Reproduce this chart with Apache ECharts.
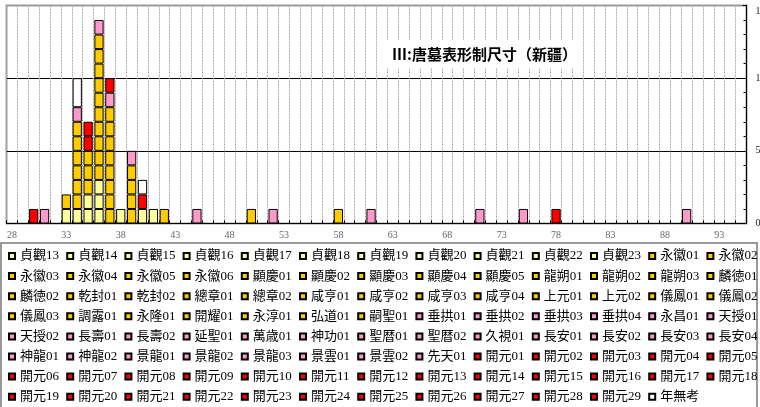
<!DOCTYPE html>
<html>
<head>
<meta charset="utf-8">
<script src="https://cdn.jsdelivr.net/npm/echarts@6/dist/echarts.min.js"></script>
<style>
html, body { margin: 0; padding: 0; background: #fff; }
#chart { width: 760px; height: 407px; }
</style>
</head>
<body>
<div id="chart"></div>
<script>
// Tomb-slab size classes (尺寸) along the horizontal axis
const sizeCategories = [28, 29, 30, 31, 32, 33, 34, 35, 36, 37, 38, 39, 40, 41, 42, 43, 44, 45, 46, 47,
  48, 49, 50, 51, 52, 53, 54, 55, 56, 57, 58, 59, 60, 61, 62, 63, 64, 65, 66, 67, 68, 69, 70, 71, 72,
  73, 74, 75, 76, 77, 78, 79, 80, 81, 82, 83, 84, 85, 86, 87, 88, 89, 90, 91, 92, 93, 94, 95];

// Reign-era series, grouped by period
const zhenguanEras = ['貞觀13', '貞觀14', '貞觀15', '貞觀16', '貞觀17', '貞觀18', '貞觀19', '貞觀20', '貞觀21', '貞觀22', '貞觀23'];
const gaozongEras = ['永徽01', '永徽02', '永徽03', '永徽04', '永徽05', '永徽06', '顯慶01', '顯慶02', '顯慶03', '顯慶04', '顯慶05',
  '龍朔01', '龍朔02', '龍朔03', '麟徳01', '麟徳02', '乾封01', '乾封02', '總章01', '總章02', '咸亨01', '咸亨02', '咸亨03', '咸亨04',
  '上元01', '上元02', '儀鳳01', '儀鳳02', '儀鳳03', '調露01', '永隆01', '開耀01', '永淳01', '弘道01', '嗣聖01'];
const wuzhouEras = ['垂拱01', '垂拱02', '垂拱03', '垂拱04', '永昌01', '天授01', '天授02', '長壽01', '長壽02', '延聖01', '萬歳01',
  '神功01', '聖暦01', '聖暦02', '久視01', '長安01', '長安02', '長安03', '長安04', '神龍01', '神龍02', '景龍01', '景龍02', '景龍03',
  '景雲01', '景雲02', '先天01'];
const kaiyuanEras = ['開元01', '開元02', '開元03', '開元04', '開元05', '開元06', '開元07', '開元08', '開元09', '開元10', '開元11',
  '開元12', '開元13', '開元14', '開元15', '開元16', '開元17', '開元18', '開元19', '開元20', '開元21', '開元22', '開元23', '開元24',
  '開元25', '開元26', '開元27', '開元28', '開元29'];
const undatedEras = ['年無考'];

// Tomb slabs: [era, size, count]
const tombRecords = [
  ['貞觀13', 35, 1], ['貞觀14', 36, 1], ['貞觀15', 34, 1], ['貞觀16', 36, 1], ['貞觀17', 33, 1],
  ['貞觀18', 35, 1], ['貞觀19', 36, 1], ['貞觀20', 38, 1], ['貞觀21', 40, 1], ['貞觀22', 41, 1],
  ['顯慶02', 33, 1],
  ['永徽02', 34, 1], ['永徽05', 34, 1], ['顯慶01', 34, 1], ['龍朔01', 34, 1], ['總章01', 34, 1], ['咸亨02', 34, 1],
  ['永徽03', 35, 1], ['麟徳01', 35, 1], ['上元01', 35, 1],
  ['永徽01', 36, 1], ['永徽04', 36, 1], ['永徽06', 36, 1], ['顯慶03', 36, 1], ['顯慶05', 36, 1],
  ['龍朔02', 36, 1], ['乾封01', 36, 1], ['咸亨01', 36, 1], ['咸亨03', 36, 1], ['儀鳳01', 36, 1],
  ['永徽02', 37, 1], ['顯慶04', 37, 1], ['龍朔03', 37, 1], ['麟徳02', 37, 1], ['乾封02', 37, 1],
  ['總章02', 37, 1], ['咸亨04', 37, 1], ['儀鳳02', 37, 1],
  ['永徽05', 39, 1], ['顯慶02', 39, 1], ['上元02', 39, 1], ['調露01', 39, 1],
  ['儀鳳03', 42, 1], ['永隆01', 50, 1], ['開耀01', 58, 1],
  ['長安02', 31, 1], ['垂拱02', 34, 1], ['天授01', 36, 1], ['聖暦01', 37, 1], ['垂拱04', 39, 1],
  ['長壽02', 45, 1], ['久視01', 52, 1], ['神龍02', 61, 1], ['景龍03', 71, 1], ['長安04', 75, 1], ['景雲02', 90, 1],
  ['開元21', 30, 1], ['開元03', 35, 1], ['開元09', 35, 1], ['開元12', 37, 1], ['開元05', 40, 1], ['開元26', 78, 1],
  ['年無考', 34, 2], ['年無考', 40, 1]
];

// Fill colour for each period group
const groupStyles = [
  { eras: zhenguanEras, color: '#FFFF99' },
  { eras: gaozongEras, color: '#FFCC00' },
  { eras: wuzhouEras, color: '#FF99CC' },
  { eras: kaiyuanEras, color: '#FF0000' },
  { eras: undatedEras, color: '#FFFFFF' }
];

const serifFont = "'Liberation Serif', 'Noto Sans CJK JP', serif";
const allEras = [];
const eraColor = {};
groupStyles.forEach(g => g.eras.forEach(e => { allEras.push(e); eraColor[e] = g.color; }));

const series = allEras.map(era => {
  const data = sizeCategories.map(() => null);
  tombRecords.forEach(([e, size, count]) => {
    if (e !== era) return;
    const idx = sizeCategories.indexOf(size);
    data[idx] = (data[idx] || 0) + count;
  });
  return {
    name: era,
    type: 'bar',
    stack: 'tombs',
    barCategoryGap: '15%',
    data: data.map(v => (v == null ? '-' : v)),
    itemStyle: { color: eraColor[era], borderColor: '#000', borderWidth: 1 },
    emphasis: { disabled: true }
  };
});

// Legend: 13 columns laid out as a grid
const legendCols = 13;
const legends = [];
for (let c = 0; c < legendCols; c++) {
  legends.push({
    orient: 'vertical',
    left: 8 + c * 58.2,
    top: 249,
    padding: 0,
    itemGap: 6.1,
    itemWidth: 6,
    itemHeight: 6,
    icon: 'rect',
    selectedMode: false,
    textStyle: { fontSize: 13, lineHeight: 14, fontFamily: serifFont, color: '#000' },
    data: allEras.filter((_, i) => i % legendCols === c)
  });
}

const chart = echarts.init(document.getElementById('chart'), null, { renderer: 'canvas' });
chart.setOption({
  backgroundColor: '#fff',
  animation: false,
  title: {
    text: 'Ⅲ:唐墓表形制尺寸（新疆）',
    left: 385,
    top: 40,
    backgroundColor: '#fff',
    padding: [6, 2, 6, 7],
    textStyle: { fontSize: 15, lineHeight: 16, fontWeight: 'bold', color: '#000', fontFamily: "'Noto Sans CJK JP', sans-serif" }
  },
  legend: legends,
  grid: {
    left: 6.5, top: 5.5, width: 740, height: 218,
    containLabel: false, outerBoundsMode: 'none',
    show: true, borderColor: '#999', borderWidth: 2, backgroundColor: 'transparent'
  },
  xAxis: {
    type: 'category',
    data: sizeCategories,
    boundaryGap: true,
    axisLine: { show: true, lineStyle: { color: '#000', width: 1 } },
    axisTick: { show: true, interval: 0, inside: true, length: 3, lineStyle: { color: '#000' } },
    axisLabel: { interval: 4, margin: 7, fontSize: 10, color: '#666', fontFamily: serifFont },
    splitLine: { show: true, interval: 0, lineStyle: { color: '#aaa', type: [2, 1], width: 1 } }
  },
  yAxis: {
    type: 'value',
    position: 'right',
    min: 0, max: 15, interval: 5,
    axisLine: { show: true, lineStyle: { color: '#000', width: 1 } },
    axisTick: { show: true, inside: true, length: 4, lineStyle: { color: '#000' } },
    minorTick: { show: true, splitNumber: 5, length: 3, lineStyle: { color: '#000' } },
    axisLabel: {
      margin: 9, fontSize: 10, color: '#222', fontFamily: serifFont,
      formatter: v => (v === 15 ? '{t|15}' : String(v)),
      rich: { t: { fontSize: 10, fontFamily: serifFont, color: '#222', padding: [11, 0, 0, 0] } }
    },
    splitLine: { show: true, lineStyle: { color: ['#000', '#000', '#000', '#999'], width: 1 } }
  },
  graphic: [{
    type: 'rect',
    silent: true,
    shape: { x: 1, y: 243, width: 756, height: 170 },
    style: { fill: 'none', stroke: '#999', lineWidth: 2 }
  }],
  series: series
});
</script>
</body>
</html>
